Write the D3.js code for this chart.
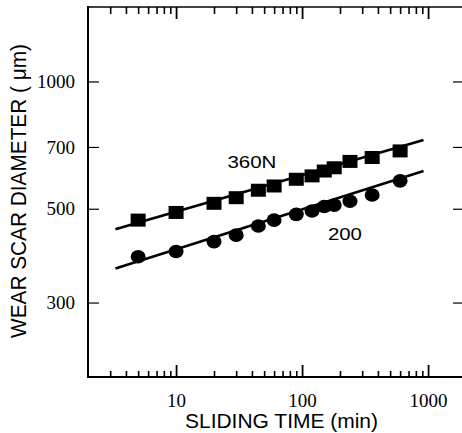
<!DOCTYPE html>
<html lang="en">
  <head>
    <meta charset="utf-8" />
    <title>Wear scar diameter</title>
    <script src="https://d3js.org/d3.v7.min.js"></script>
    <style type="text/css">
      body { margin: 0; background: #fff; }
      svg { display: block; }
      .domain { display: none; }
    </style>
  </head>
  <body>
    <svg id="chart" width="462" height="433"></svg>
    <script type="text/javascript">
      // sliding time (min) and wear scar diameter (um)
      const times = [5, 10, 20, 30, 45, 60, 90, 120, 150, 180, 240, 360, 600];
      const load360 = [470, 490, 515, 531, 553, 566, 587, 598, 614, 625, 647, 661, 685];
      const load200 = [385, 396, 418, 433, 455, 470, 485, 494, 506, 510, 521, 539, 582];
      // fitted lines, end points
      const fitTimes = [3.3, 920];
      const fit360 = [447, 727];
      const fit200 = [361, 614];
      // tick values
      const xMajor = [10, 100, 1000];
      const xMinor = [3, 4, 5, 6, 7, 8, 9, 20, 30, 40, 50, 60, 70, 80, 90, 200, 300, 400, 500, 600, 700, 800, 900];
      const yTicks = [300, 500, 700, 1000];
      // curve labels
      const curveLabels = ["360N", "200"];
      const labelTimes = [40, 219];
      const labelDiam = [624, 422];

      const svg = d3.select("#chart");
      const x = d3.scaleLog().domain([2, 2000]).range([88, 466]);
      const y = d3.scaleLog().domain([200, 1500]).range([377, 7]);
      const serif = "Liberation Serif, Times New Roman, serif";
      const sans = "Liberation Sans, Arial, sans-serif";

      // frame
      svg.append("line").attr("x1", 88).attr("x2", 88).attr("y1", 6).attr("y2", 378)
          .attr("stroke", "#000").attr("stroke-width", 2);
      svg.append("line").attr("x1", 88).attr("x2", 466).attr("y1", 377).attr("y2", 377)
          .attr("stroke", "#000").attr("stroke-width", 1.8);
      svg.append("line").attr("x1", 88).attr("x2", 466).attr("y1", 7).attr("y2", 7)
          .attr("stroke", "#000").attr("stroke-width", 1.5);

      // x ticks, bottom and top (pointing inward)
      svg.append("g").attr("transform", "translate(0,377)")
          .call(d3.axisBottom(x).tickValues(xMinor).tickSize(-6).tickFormat(""))
          .selectAll("line").attr("stroke-width", 1.6);
      const xb = svg.append("g").attr("transform", "translate(0,377)")
          .call(d3.axisBottom(x).tickValues(xMajor).tickSize(-12).tickFormat(d3.format("d")));
      xb.selectAll("line").attr("stroke-width", 1.8);
      xb.selectAll("text")
          .attr("y", 30).attr("dy", 0)
          .attr("font-family", serif).attr("font-size", "19px").attr("fill", "#000");
      svg.append("g").attr("transform", "translate(0,7)")
          .call(d3.axisTop(x).tickValues(xMinor).tickSize(-7).tickFormat(""))
          .selectAll("line").attr("stroke-width", 1.6);
      svg.append("g").attr("transform", "translate(0,7)")
          .call(d3.axisTop(x).tickValues(xMajor).tickSize(-12).tickFormat(""))
          .selectAll("line").attr("stroke-width", 1.8);

      // y ticks, left and right
      const yl = svg.append("g").attr("transform", "translate(88,0)")
          .call(d3.axisLeft(y).tickValues(yTicks).tickSize(-11).tickFormat(d3.format("d")));
      yl.selectAll("line").attr("stroke-width", 1.2);
      yl.selectAll("text")
          .attr("x", -13).attr("dy", "0.32em")
          .attr("font-family", serif).attr("font-size", "19px").attr("fill", "#000");
      svg.append("g").attr("transform", "translate(466,0)")
          .call(d3.axisRight(y).tickValues(yTicks).tickSize(-13).tickFormat(""))
          .selectAll("line").attr("stroke-width", 1.2);

      // fitted lines
      const line = d3.line().x(d => x(d[0])).y(d => y(d[1]));
      [fit360, fit200].forEach(f => {
        svg.append("path")
            .datum(fitTimes.map((t, i) => [t, f[i]]))
            .attr("d", line)
            .attr("fill", "none")
            .attr("stroke", "#000")
            .attr("stroke-width", 2.6);
      });

      // squares (360N)
      svg.selectAll("rect.sq")
          .data(times.map((t, i) => [t, load360[i]]))
          .enter()
          .append("rect")
          .attr("class", "sq")
          .attr("x", d => x(d[0]) - 7.5)
          .attr("y", d => y(d[1]) - 6.5)
          .attr("width", 15)
          .attr("height", 13)
          .attr("fill", "#000");

      // circles (200N)
      svg.selectAll("ellipse")
          .data(times.map((t, i) => [t, load200[i]]))
          .enter()
          .append("ellipse")
          .attr("cx", d => x(d[0]))
          .attr("cy", d => y(d[1]))
          .attr("rx", 7.5)
          .attr("ry", 6.8)
          .attr("fill", "#000");

      // curve labels
      svg.selectAll("text.lab")
          .data(curveLabels)
          .enter()
          .append("text")
          .attr("class", "lab")
          .text(d => d)
          .attr("x", (d, i) => x(labelTimes[i]))
          .attr("y", (d, i) => y(labelDiam[i]))
          .attr("text-anchor", "middle")
          .attr("font-family", sans)
          .attr("font-size", "17px")
          .attr("textLength", (d, i) => i === 0 ? 49 : 34)
          .attr("lengthAdjust", "spacingAndGlyphs");

      // axis titles
      svg.append("text")
          .text("SLIDING TIME (min)")
          .attr("x", 281.5)
          .attr("y", 428)
          .attr("text-anchor", "middle")
          .attr("font-family", sans)
          .attr("font-size", "20px")
          .attr("textLength", 193)
          .attr("lengthAdjust", "spacingAndGlyphs");
      svg.append("text")
          .text("WEAR SCAR DIAMETER ( \u03bcm)")
          .attr("transform", "translate(26,191) rotate(-90)")
          .attr("text-anchor", "middle")
          .attr("font-family", sans)
          .attr("font-size", "22px")
          .attr("textLength", 294)
          .attr("lengthAdjust", "spacingAndGlyphs");
    </script>
  </body>
</html>
